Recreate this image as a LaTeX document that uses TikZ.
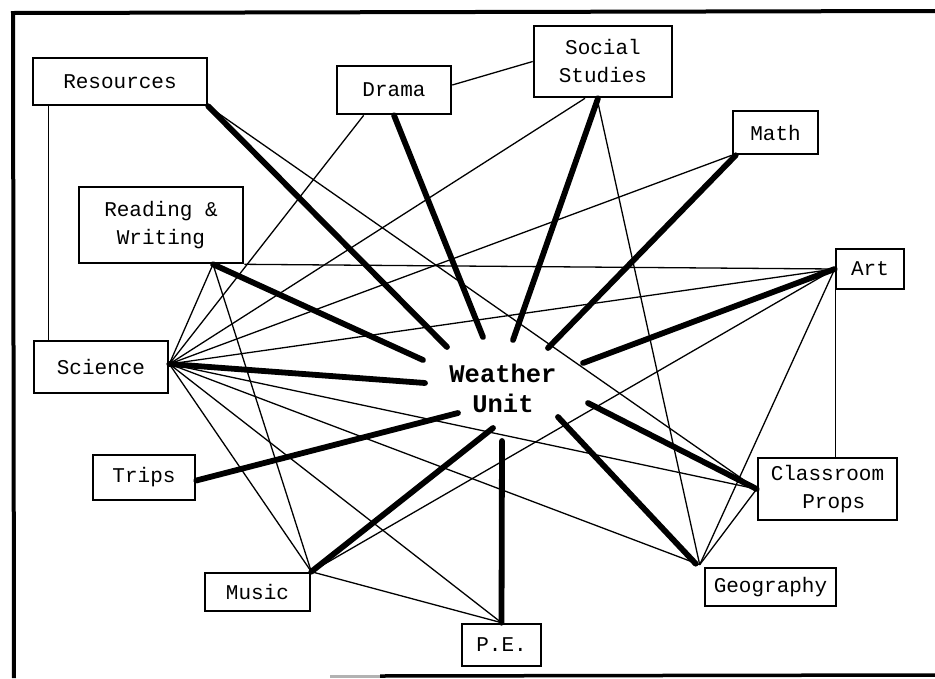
\documentclass[tikz,border=0pt]{standalone}
\usepackage{fontspec}
\newfontfamily\monofont{Liberation Mono}
\usetikzlibrary{calc}
\begin{document}
\begin{tikzpicture}[x=1pt,y=-1pt,
  box/.style={draw,line width=2.6pt,fill=white,inner sep=0pt,align=center,font=\monofont\fontsize{21}{28}\selectfont},
  thinline/.style={line width=1.3pt},
  heavy/.style={line width=5.8pt,line cap=round},
  framel/.style={line width=4pt}]
\useasboundingbox (0,0) rectangle (935,678);

% frame
\coordinate (ftl) at (13,13);
\coordinate (ftr) at (935,11);
\coordinate (fbl) at (14,678);
\coordinate (fbg) at (330,676);
\coordinate (fbm) at (380,676);
\coordinate (fbr) at (935,675);
\draw[framel] (ftr) -- (ftl) -- (fbl);
\draw[line width=3pt,black!30] (fbg) -- (fbm);
\draw[line width=3.5pt] (fbm) -- (fbr);

% nodes
\node[box,minimum width=174pt,minimum height=47pt] (res) at (120,81.5) {Resources};
\node[box,minimum width=114pt,minimum height=48pt] (drama) at (394,90) {Drama};
\node[box,minimum width=138pt,minimum height=71pt] (ss) at (603,61.5) {Social\\Studies};
\node[box,minimum width=85pt,minimum height=43pt] (math) at (775.5,132.5) {Math};
\node[box,minimum width=68pt,minimum height=40pt] (art) at (870,269) {Art};
\node[box,minimum width=164pt,minimum height=76pt] (rw) at (161,225) {Reading \&\\Writing};
\node[box,minimum width=134pt,minimum height=52pt] (sci) at (101,367) {Science};
\node[box,minimum width=102pt,minimum height=45pt] (trips) at (144,477.5) {Trips};
\node[box,minimum width=105pt,minimum height=38pt] (music) at (257.5,592) {Music};
\node[box,minimum width=79pt,minimum height=42pt] (pe) at (501.5,645) {P.E.};
\node[box,minimum width=139pt,minimum height=62pt] (props) at (827.5,489) {Classroom\\\hphantom{X}Props};
\node[box,minimum width=131pt,minimum height=38pt] (geo) at (770.5,587) {Geography};
\node[font=\monofont\bfseries\fontsize{25.5}{30}\selectfont,align=center,inner sep=0pt] (wu) at (503,388) {Weather\\Unit};

% attachment points
\coordinate (resL) at ([xshift=17pt]res.south west);
\coordinate (artB) at ([xshift=1pt]art.south west);
\coordinate (sciP) at ([yshift=3pt]sci.east);
\coordinate (rwP) at ([xshift=52pt]rw.south);
\coordinate (dramaL) at ([xshift=28pt]drama.south west);
\coordinate (dramaR) at ([yshift=5pt]drama.east);
\coordinate (ssA) at ([xshift=-18pt]ss.south);
\coordinate (ssB) at ([xshift=-6pt]ss.south);
\coordinate (geoP) at ([xshift=-4pt,yshift=2pt]geo.north west);
\coordinate (geoT) at ([xshift=-8pt,yshift=3pt]geo.north west);

% thin connectors
\draw[thinline] (resL) -- (resL |- sci.north);
\draw[thinline] (dramaR) -- (ss.west);
\draw[thinline] (res.south east) -- (props.west);
\draw[thinline] (dramaL) -- (sciP);
\draw[thinline] (ssA) -- (sciP);
\draw[thinline] (ssB) -- (geoP);
\draw[thinline] (math.south west) -- (sciP);
\draw[thinline] (rw.south east) -- (art.west);
\draw[thinline] (art.west) -- (sciP);
\draw[thinline] (art.west) -- (music.north east);
\draw[thinline] (art.west) -- (geoP);
\draw[thinline] (artB) -- (artB |- props.north);
\draw[thinline] (rwP) -- (sciP);
\draw[thinline] (rwP) -- (music.north east);
\draw[thinline] (sciP) -- (music.north east);
\draw[thinline] (sciP) -- (pe.north);
\draw[thinline] (sciP) -- (geoP);
\draw[thinline] (sciP) -- (props.west);
\draw[thinline] (music.north east) -- (pe.north);
\draw[thinline] (props.west) -- (geoP);

% free ends of the heavy spokes around the centre
\coordinate (eRes) at (447,347);
\coordinate (eDrama) at (483,337);
\coordinate (eSS) at (513,340);
\coordinate (eMath) at (548,348);
\coordinate (eArt) at (583,363);
\coordinate (eProps) at (588,403);
\coordinate (eGeo) at (558,417);
\coordinate (ePE) at (502,441);
\coordinate (eMusic) at (493,428);
\coordinate (eTrips) at (458,413);
\coordinate (eSci) at (425,383);
\coordinate (eRW) at (423,360);

% heavy spokes
\draw[heavy] (res.south east) -- (eRes);
\draw[heavy] (drama.south) -- (eDrama);
\draw[heavy] ([xshift=-5pt]ss.south) -- (eSS);
\draw[heavy] ([xshift=4pt]math.south west) -- (eMath);
\draw[heavy] (art.west) -- (eArt);
\draw[heavy] (props.west) -- (eProps);
\draw[heavy] (geoT) -- (eGeo);
\draw[heavy] (pe.north) -- (ePE);
\draw[heavy] (music.north east) -- (eMusic);
\draw[heavy] ([yshift=-3pt]trips.east) -- (eTrips);
\draw[heavy] (sciP) -- (eSci);
\draw[heavy] (rwP) -- (eRW);
\end{tikzpicture}
\end{document}
